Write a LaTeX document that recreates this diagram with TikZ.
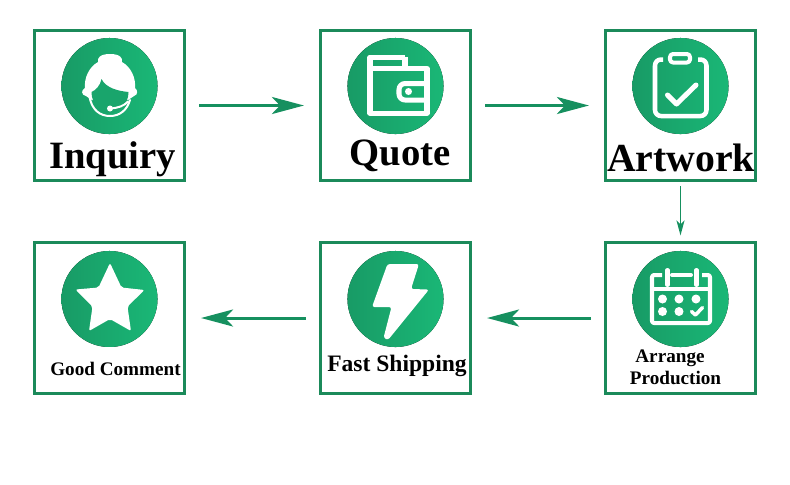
\documentclass[tikz,border=0pt]{standalone}
\usepackage{fontspec}
\setmainfont{Liberation Serif}
\usepackage{tikz}
\usetikzlibrary{arrows.meta, positioning}
\usepackage{xcolor}
\definecolor{boxgreen}{RGB}{27,138,90}
\definecolor{arrowgreen}{RGB}{22,144,95}
\definecolor{iconleft}{RGB}{24,152,100}
\definecolor{iconright}{RGB}{26,186,120}

\begin{document}
\begin{tikzpicture}[
  x=0.01cm, y=-0.01cm,
  stepbox/.style={draw=boxgreen, line width=0.03cm, minimum size=1.5cm, inner sep=0pt},
  iconcircle/.style={circle, minimum size=0.96cm, inner sep=0pt,
    path picture={\fill[left color=iconleft, right color=iconright]
      ([xshift=-0.1cm, yshift=-0.1cm]path picture bounding box.south west) rectangle
      ([xshift=0.1cm, yshift=0.1cm]path picture bounding box.north east);}},
  biglbl/.style={anchor=base, inner sep=0pt, font=\fontsize{11}{11}\selectfont\bfseries},
  midlbl/.style={anchor=base, inner sep=0pt, font=\fontsize{6.7}{6.7}\selectfont\bfseries},
  smalllbl/.style={anchor=base, inner sep=0pt, font=\fontsize{5.45}{5.45}\selectfont\bfseries},
  flowarrow/.style={draw=arrowgreen, line width=0.03cm, shorten <=0.13cm, shorten >=0.15cm,
    -{Stealth[length=0.32cm, width=0.17cm, inset=0.08cm]}},
  downarrow/.style={draw=arrowgreen, line width=0.017cm, shorten <=0.04cm, shorten >=0.06cm,
    -{Stealth[length=0.15cm, width=0.08cm, inset=0.04cm]}},
  iconline/.style={draw=white, line width=0.05cm, line join=round},
  iconthin/.style={draw=white, line width=0.02cm, line cap=round}
]
\useasboundingbox (0,0) rectangle (790,484);

% boxes
\node[stepbox] (inquiry) at (109.5,105.5) {};
\node[stepbox] (quote) at (395.5,105.5) {};
\node[stepbox] (artwork) at (680.5,105.5) {};
\node[stepbox] (production) at (680.5,318) {};
\node[stepbox] (shipping) at (395.5,318) {};
\node[stepbox] (comment) at (109.5,318) {};

% round icons
\node[iconcircle] (inquiryicon) at (109.5,86) {};
\node[iconcircle] (quoteicon) at (395.5,86) {};
\node[iconcircle] (artworkicon) at (680.5,86) {};
\node[iconcircle] (productionicon) at (680.5,299) {};
\node[iconcircle] (shippingicon) at (395.5,299) {};
\begin{scope}
  \clip (0,0) rectangle (790,346);
  \node[iconcircle] (commenticon) at (109.5,299) {};
\end{scope}

% labels
\node[biglbl] (inquirylbl) at (112.5,168) {Inquiry};
\node[biglbl] (quotelbl) at (400,165) {Quote};
\node[biglbl, font=\fontsize{11.3}{11.3}\selectfont\bfseries] (artworklbl) at (681,171) {Artwork};
\node[smalllbl] (arrangelbl) at (670,362) {Arrange};
\node[smalllbl] (productionlbl) at (675.5,384) {Production};
\node[midlbl] (shippinglbl) at (397,371.5) {Fast Shipping};
\node[smalllbl] (commentlbl) at (115.5,375.5) {Good Comment};

% connectors
\draw[flowarrow] (inquiry) -- (quote);
\draw[flowarrow] (quote) -- (artwork);
\draw[downarrow] (artwork) -- (production);
\draw[flowarrow] (production) -- (shipping);
\draw[flowarrow] (shipping) -- (comment);

% headset
\fill[white] (110,54) .. controls (100,54) and (97,58) .. (98,62)
  .. controls (89,67) and (84,78) .. (85,88)
  .. controls (81,90) and (81,95) .. (86,96) -- (92,100) -- (128,100) -- (134,96)
  .. controls (138,95) and (138,90) .. (135,88)
  .. controls (136,78) and (131,67) .. (122,62)
  .. controls (123,58) and (120,54) .. (110,54) -- cycle;
\fill[iconleft!60!iconright] (91.5,92) .. controls (96,90) and (100,86) .. (101.5,79)
  .. controls (106,88) and (118,91) .. (128.5,92)
  .. controls (128.5,104) and (120,112) .. (110,113)
  .. controls (100,112) and (91.5,104) .. (91.5,92) -- cycle;
\draw[iconthin] (89.5,97) .. controls (92,110) and (100,116) .. (110,116)
  .. controls (120,116) and (127,110) .. (130,100);
\draw[iconthin] (110,108.5) .. controls (118,108) and (124,106) .. (128,101.5);
\fill[white] (110,108.5) circle[radius=0.03cm];

% wallet
\draw[iconline] (370,68.5) -- (405,68.5) (405,57) -- (370,57) -- (370,113) -- (427,113) -- (427,68.5) -- (405,68.5) -- (405,57);
\draw[iconline, rounded corners=0.06cm] (427,83.5) -- (399,83.5) -- (399,100) -- (427,100);
\fill[white] (408.5,91.5) circle[radius=0.035cm];

% clipboard
\draw[iconline, line width=0.045cm, rounded corners=0.06cm] (663,59.5) -- (655,59.5) -- (655,116) -- (706.5,116) -- (706.5,59.5) -- (698,59.5);
\draw[iconline, line width=0.04cm, rounded corners=0.03cm] (670,54) rectangle (690,62.5);
\draw[iconline, line cap=round] (667.5,95) -- (676.5,104) -- (696,85);

% calendar
\draw[iconline, line width=0.04cm, rounded corners=0.02cm] (662,275) -- (652,275) -- (652,323) -- (710,323) -- (710,275) -- (702,275);
\draw[iconline, line width=0.04cm] (652,288.5) -- (710,288.5);
\draw[iconline, line width=0.04cm, line cap=round] (672,275) -- (691,275);
\draw[iconline, line width=0.04cm, line cap=round] (667.5,270) -- (667.5,285) (696.5,270) -- (696.5,285);
\foreach \dotx/\doty in {662.5/299, 679/299, 696/299, 662.5/311.5, 679/311.5}
  \fill[white] (\dotx,\doty) circle[radius=0.045cm];
\draw[iconline, line width=0.035cm, line cap=round] (691.5,311.5) -- (695.5,315) -- (702.5,307.5);

% bolt
\fill[white, rounded corners=0.025cm] (387.5,264) -- (419,264) -- (411,289) -- (429,289.5) -- (388,340) -- (383.5,338) -- (391.5,307) -- (372,307) -- cycle;

% star
\fill[white, rounded corners=0.02cm] (110,263) -- (121.5,287.5) -- (144.5,290) -- (127.5,306.5) -- (131,331) -- (110,319) -- (89,331) -- (92.5,306.5) -- (75.5,289.5) -- (98.5,287.5) -- cycle;
\end{tikzpicture}
\end{document}
